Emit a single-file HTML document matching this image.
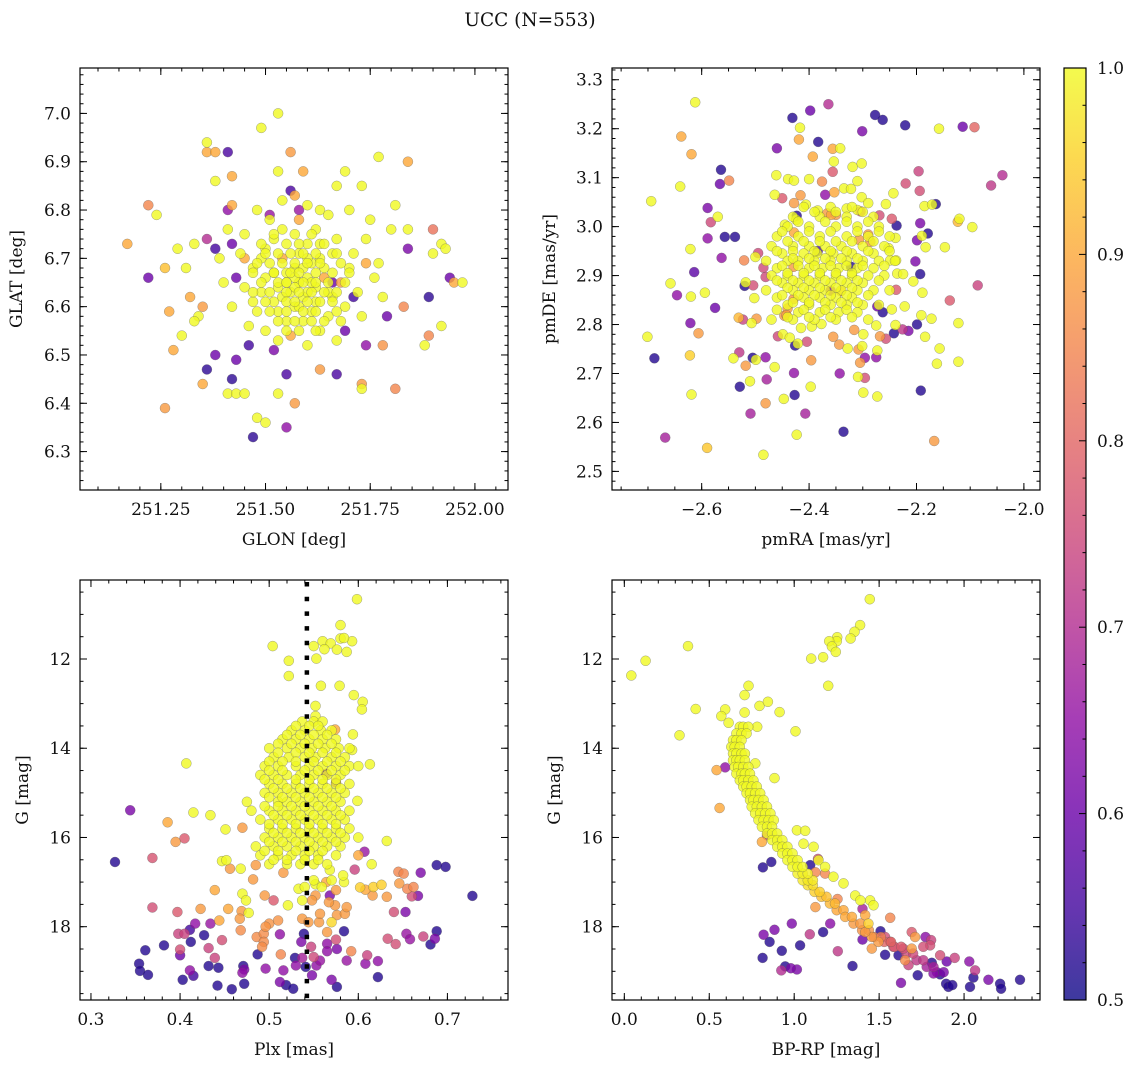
<!DOCTYPE html>
<html><head><meta charset="utf-8">
<style>
html,body{margin:0;padding:0;background:#fff;}
svg text{font-family:"DejaVu Serif","Liberation Serif",serif;fill:#111;}
</style></head>
<body>
<svg id="fig" width="1136" height="1067" viewBox="0 0 1136 1067" xmlns="http://www.w3.org/2000/svg">
<text x="530" y="26" font-size="18.5" text-anchor="middle">UCC (N=553)</text>
</svg>
<script>
// ---------- Panel 1: GLON / GLAT  [glon, glat, prob]
const skyStars = [
[251.53,7.00,1],[251.49,6.97,1],[251.36,6.94,1],[251.36,6.92,.9],[251.38,6.92,.9],[251.41,6.92,.56],[251.56,6.92,.88],[251.77,6.91,1],[251.84,6.90,.9],
[251.38,6.86,1],[251.42,6.87,.9],[251.59,6.88,.9],[251.53,6.88,1],[251.56,6.84,.56],[251.54,6.82,1],[251.57,6.83,.9],
[251.22,6.81,.85],[251.24,6.79,1],[251.42,6.81,.9],[251.41,6.80,.65],[251.51,6.79,.66],[251.58,6.80,.66],[251.60,6.81,1],
[251.63,6.80,1],[251.67,6.85,1],[251.73,6.85,1],[251.69,6.88,1],[251.81,6.81,1],[251.80,6.76,1],[251.84,6.76,1],
[251.17,6.73,.9],[251.22,6.66,.6],[251.26,6.68,.93],[251.29,6.72,1],[251.31,6.68,1],[251.32,6.62,.9],[251.33,6.73,1],
[251.36,6.74,.7],[251.38,6.72,.55],[251.42,6.73,.6],[251.45,6.70,.9],[251.43,6.66,.6],
[251.74,6.69,.9],[251.77,6.69,1],[251.84,6.72,.62],[251.90,6.71,1],[251.92,6.73,1],[251.93,6.72,1],
[251.89,6.62,.53],[251.95,6.65,.9],[251.97,6.65,1],[251.94,6.66,.6],[251.92,6.56,1],[251.88,6.52,1],[251.89,6.54,.85],[251.90,6.76,.82],
[251.35,6.60,.88],[251.34,6.58,1],[251.33,6.57,1],[251.28,6.51,.9],[251.30,6.54,1],[251.27,6.59,.9],
[251.26,6.39,.88],[251.35,6.44,.9],[251.36,6.47,.53],[251.38,6.50,.6],[251.42,6.45,.53],[251.41,6.42,1],[251.43,6.42,1],[251.45,6.42,1],
[251.43,6.49,.6],[251.46,6.52,.55],[251.52,6.51,.62],
[251.47,6.33,.53],[251.48,6.37,1],[251.50,6.36,1],[251.53,6.42,1],[251.55,6.35,.65],[251.57,6.40,.88],
[251.55,6.46,.56],[251.63,6.47,.88],[251.67,6.46,.56],[251.69,6.55,.6],[251.74,6.52,.65],[251.78,6.52,.87],
[251.73,6.44,.88],[251.73,6.43,1],[251.81,6.43,.85],[251.79,6.58,.6],[251.83,6.60,.85],[251.71,6.62,.55],[251.66,6.65,.6],
[251.58,6.65,1],[251.56,6.63,1],[251.60,6.66,1],[251.55,6.67,1],[251.62,6.64,1],[251.59,6.62,1],[251.57,6.68,1],[251.61,6.69,1],[251.53,6.64,1],[251.64,6.66,.9],
[251.52,6.61,1],[251.66,6.62,1],[251.50,6.66,1],[251.63,6.70,1],[251.58,6.71,1],[251.54,6.70,.9],[251.57,6.60,1],[251.61,6.59,1],[251.65,6.58,1],[251.51,6.69,1],
[251.49,6.63,1],[251.68,6.65,.88],[251.55,6.57,1],[251.60,6.73,1],[251.52,6.74,1],[251.66,6.71,1],[251.47,6.68,1],[251.70,6.68,1],[251.63,6.55,1],[251.56,6.54,.9],
[251.59,6.57,1],[251.48,6.59,1],[251.69,6.60,1],[251.45,6.64,1],[251.72,6.63,1],[251.54,6.76,1],[251.62,6.76,1],[251.58,6.78,.9],[251.50,6.72,1],[251.67,6.74,1],
[251.53,6.59,1],[251.62,6.61,1],[251.57,6.66,1],[251.60,6.63,1],[251.55,6.65,1],[251.59,6.68,1],[251.56,6.71,1],[251.64,6.68,1],[251.52,6.67,1],[251.61,6.65,1],
[251.58,6.60,1],[251.54,6.62,1],[251.65,6.63,1],[251.57,6.64,1],[251.60,6.70,1],[251.63,6.73,1],[251.49,6.70,1],[251.47,6.61,1],[251.71,6.71,1],[251.68,6.57,1],
[251.46,6.56,1],[251.50,6.55,1],[251.73,6.58,1],[251.44,6.71,1],[251.74,6.74,1],[251.51,6.78,1],[251.65,6.79,1],[251.60,6.52,1],[251.53,6.53,1],[251.67,6.53,1],
[251.40,6.65,1],[251.42,6.60,1],[251.76,6.66,1],[251.78,6.62,1],[251.39,6.70,1],[251.41,6.76,1],[251.75,6.78,1],[251.70,6.80,1],[251.48,6.80,1],[251.45,6.75,1]
];
// extra dense sky core rows
const skyCoreGlat = [6.75,6.73,6.71,6.69,6.67,6.65,6.63,6.61,6.59,6.57,6.55];
const skyCoreGlon = [
[251.52,251.57,251.61],[251.49,251.55,251.58,251.64],[251.50,251.53,251.59,251.62,251.67],[251.48,251.54,251.57,251.60,251.63,251.68],
[251.47,251.52,251.56,251.58,251.62,251.66,251.70],[251.49,251.53,251.55,251.59,251.62,251.65,251.69],[251.47,251.51,251.55,251.58,251.61,251.64,251.67],
[251.50,251.55,251.57,251.60,251.63,251.66],[251.51,251.55,251.59,251.62,251.67],[251.53,251.57,251.61,251.64],[251.55,251.58,251.62]
];
const skyCoreProb = 1.0;

// ---------- Panel 2: pmRA / pmDE  [pmra, pmde, prob]
const pmStars = [
[-2.612,3.254,1],[-2.638,3.184,.9],[-2.619,3.148,.9],[-2.640,3.082,1],[-2.694,3.052,1],[-2.564,3.116,.52],[-2.566,3.087,.6],[-2.549,3.094,.85],
[-2.589,3.038,.62],[-2.583,3.009,.75],[-2.570,3.02,1],[-2.589,2.976,.65],[-2.557,2.979,.52],[-2.538,2.979,.52],[-2.621,2.954,1],[-2.563,2.936,.65],
[-2.614,2.907,.58],[-2.658,2.884,1],[-2.646,2.860,.65],[-2.620,2.857,1],[-2.594,2.865,1],[-2.575,2.834,.6],[-2.621,2.803,.62],[-2.606,2.782,.88],
[-2.701,2.775,1],[-2.688,2.731,.52],[-2.622,2.737,.95],[-2.619,2.657,1],[-2.668,2.569,.68],[-2.590,2.548,.94],[-2.485,2.534,1],[-2.423,2.575,1],
[-2.336,2.581,.52],[-2.167,2.562,.88],[-2.509,2.618,.68],[-2.407,2.618,.68],[-2.481,2.639,.88],[-2.447,2.648,1],[-2.427,2.656,.52],[-2.529,2.673,.52],
[-2.510,2.684,1],[-2.479,2.688,.68],[-2.397,2.673,1],[-2.428,2.701,.65],[-2.343,2.70,.65],[-2.309,2.693,1],[-2.296,2.691,.76],[-2.299,2.661,1],
[-2.273,2.653,1],[-2.192,2.665,.52],[-2.530,2.743,.72],[-2.541,2.731,1],[-2.505,2.732,.52],[-2.499,2.728,1],[-2.518,2.716,.88],[-2.481,2.733,.65],
[-2.464,2.713,1],[-2.396,2.727,.88],[-2.305,2.722,.88],[-2.296,2.732,.65],[-2.275,2.733,.65],[-2.273,2.747,1],[-2.242,2.782,.52],[-2.257,2.771,.76],
[-2.268,2.776,.88],[-2.226,2.790,.72],[-2.215,2.787,.62],[-2.199,2.80,.52],[-2.184,2.775,1],[-2.157,2.751,1],[-2.162,2.720,1],[-2.122,2.724,1],
[-2.122,2.803,1],[-2.172,2.812,1],[-2.191,2.819,1],[-2.138,2.849,.78],[-2.086,2.880,.74],[-2.189,2.865,1],[-2.206,2.888,1],[-2.193,2.903,.52],
[-2.202,2.929,.62],[-2.238,2.871,.78],[-2.183,2.958,1],[-2.147,2.958,1],[-2.199,2.972,.62],[-2.179,2.986,.52],[-2.19,2.981,1],[-2.193,3.007,.62],
[-2.237,3.002,.52],[-2.246,3.016,.78],[-2.269,3.023,.76],[-2.123,3.010,.92],[-2.120,3.016,1],[-2.096,2.999,1],[-2.185,3.042,1],[-2.171,3.045,1],
[-2.164,3.046,.52],[-2.194,3.073,.76],[-2.220,3.088,.76],[-2.196,3.113,.74],[-2.061,3.084,.72],[-2.040,3.105,.70],[-2.114,3.204,.6],[-2.092,3.203,.8],
[-2.158,3.20,1],[-2.221,3.207,.52],[-2.263,3.218,.52],[-2.277,3.228,.52],[-2.301,3.195,.62],[-2.364,3.25,.70],[-2.398,3.237,.6],[-2.431,3.222,.52],
[-2.417,3.202,1],[-2.419,3.178,.9],[-2.383,3.173,.52],[-2.460,3.16,.62],[-2.356,3.159,.9],[-2.342,3.16,1],[-2.393,3.143,.9],[-2.354,3.133,1],
[-2.319,3.122,1],[-2.302,3.129,1],[-2.356,3.112,.78],[-2.461,3.105,1],[-2.439,3.097,1],[-2.428,3.094,1],[-2.40,3.097,1],[-2.376,3.092,.86],
[-2.31,3.093,1],[-2.464,3.065,1],[-2.45,3.058,.78],[-2.416,3.064,.88],[-2.428,3.048,.88],[-2.370,3.065,.65],[-2.353,3.07,.9],[-2.335,3.078,1],
[-2.322,3.077,1],[-2.302,3.06,1],[-2.290,3.048,1],[-2.257,3.046,1],[-2.243,3.068,1],[-2.406,3.045,1],[-2.384,3.033,1],[-2.359,3.024,.9],
[-2.33,3.037,1],[-2.31,3.034,1],[-2.304,3.031,.78],[-2.423,3.022,.52],[-2.424,3.014,1],[-2.445,3.004,1],[-2.495,2.946,.75],[-2.521,2.931,.85],
[-2.50,2.938,1],[-2.485,2.916,.75],[-2.481,2.897,.75],[-2.504,2.880,.76],[-2.520,2.879,.52],[-2.518,2.886,1],[-2.502,2.854,1],[-2.531,2.814,.92],
[-2.523,2.810,.74],[-2.498,2.812,.88],[-2.507,2.803,1],[-2.458,2.776,.75],[-2.449,2.78,1],[-2.436,2.773,1],[-2.426,2.757,.52],[-2.421,2.761,1],
[-2.404,2.765,.76],[-2.415,2.793,1],[-2.395,2.796,1],[-2.377,2.801,1],[-2.355,2.775,.88],[-2.344,2.759,.88],[-2.328,2.751,1],[-2.316,2.789,.88],
[-2.299,2.78,1],[-2.301,2.756,1],[-2.308,2.749,.88],[-2.446,2.818,.88],[-2.440,2.833,.88],[-2.275,2.798,1],[-2.239,2.799,1],[-2.222,2.837,1],
[-2.263,2.825,.52],[-2.273,2.837,.6],[-2.246,2.831,1],[-2.236,2.904,1],[-2.225,2.903,1],[-2.249,2.931,1],[-2.238,2.931,1],[-2.239,2.977,1],
[-2.252,2.956,1],[-2.307,2.973,.88],[-2.290,2.984,.88],[-2.286,2.969,.88],[-2.366,3.027,.88],[-2.350,3.024,.88],[-2.428,2.988,.9],[-2.429,2.918,.88],
[-2.429,2.852,.88],[-2.442,2.819,.88],[-2.36,2.869,.65],[-2.322,2.918,.52],[-2.384,2.950,.55],[-2.341,2.868,.9]
];
// dense core of the proper-motion cluster: one row per pmDE value
const pmCoreDE = [3.04,3.02,3.00,2.98,2.96,2.945,2.93,2.915,2.90,2.885,2.87,2.855,2.84,2.825,2.81,
                  3.03,3.01,2.99,2.97,2.95,2.935,2.92,2.905,2.89,2.875,2.86,2.845,2.83,2.815];
const pmCoreRA = [
[-2.41,-2.36,-2.32],[-2.43,-2.38,-2.33,-2.28],[-2.44,-2.40,-2.35,-2.31,-2.27],[-2.46,-2.42,-2.38,-2.33,-2.29,-2.25],
[-2.47,-2.43,-2.40,-2.37,-2.34,-2.30,-2.26],[-2.45,-2.41,-2.385,-2.355,-2.32,-2.28],[-2.48,-2.44,-2.42,-2.39,-2.36,-2.33,-2.30,-2.27,-2.24],
[-2.46,-2.40,-2.375,-2.345,-2.31,-2.28],[-2.47,-2.44,-2.41,-2.38,-2.35,-2.32,-2.29,-2.26],[-2.45,-2.42,-2.39,-2.36,-2.33,-2.30],
[-2.48,-2.43,-2.40,-2.37,-2.34,-2.31,-2.28,-2.25],[-2.46,-2.41,-2.38,-2.35,-2.32],[-2.44,-2.40,-2.36,-2.33,-2.30,-2.27],
[-2.42,-2.38,-2.345,-2.31],[-2.47,-2.43,-2.39,-2.35,-2.29],
[-2.39,-2.35,-2.30],[-2.42,-2.37,-2.33,-2.29],[-2.45,-2.40,-2.36,-2.31,-2.27],[-2.44,-2.41,-2.38,-2.35,-2.32,-2.28],
[-2.46,-2.43,-2.39,-2.36,-2.33,-2.29,-2.25],[-2.43,-2.40,-2.37,-2.34,-2.31],[-2.45,-2.42,-2.39,-2.36,-2.33,-2.30,-2.26],
[-2.44,-2.41,-2.38,-2.35,-2.32],[-2.46,-2.43,-2.40,-2.37,-2.34,-2.31,-2.27],[-2.44,-2.41,-2.38,-2.35,-2.32],
[-2.45,-2.42,-2.39,-2.36,-2.33,-2.29],[-2.43,-2.40,-2.37,-2.34,-2.31],[-2.46,-2.41,-2.37,-2.33],[-2.44,-2.40,-2.36,-2.32]
];
const pmCoreProb = 1.0;

// ---------- Panel 3: Plx / G  [plx, G, prob]
const plxStars = [
[.5985,10.66,1],[.580,11.24,1],[.504,11.71,1],[.522,12.04,1],[.522,12.38,1],[.55,11.71,1],[.560,11.6,1],[.569,11.65,1],[.562,11.78,1],
[.576,11.79,1],[.580,11.54,1],[.593,11.6,1],[.587,11.84,1],[.553,11.99,1],[.584,11.53,1],[.558,12.6,1],[.579,12.6,1],[.595,12.81,1],
[.605,12.96,1],[.604,13.13,1],[.552,13.05,1],[.552,13.28,1],[.407,14.34,1],[.344,15.39,.62],[.327,16.55,.52],[.386,15.66,.9],[.395,16.1,.88],
[.405,16.02,.78],[.369,16.46,.77],[.415,15.44,1],[.434,15.5,1],[.451,15.82,1],[.470,15.78,.88],[.447,16.53,1],[.452,16.51,1],[.456,16.7,.88],
[.468,16.7,1],[.439,17.18,.9],[.369,17.57,.76],[.397,17.67,.78],[.423,17.6,.88],[.454,17.6,.9],[.444,17.86,.9],[.417,17.93,.65],[.434,17.93,.66],
[.398,18.16,.74],[.405,18.16,.74],[.411,18.07,.55],[.427,18.19,.52],[.412,18.34,.52],[.447,18.3,.76],[.382,18.42,.52],[.361,18.53,.52],[.354,18.83,.52],
[.355,18.99,.52],[.364,19.08,.52],[.40,18.64,.6],[.40,18.51,.76],[.432,18.48,.74],[.439,18.7,.74],[.432,18.88,.52],[.443,18.92,.52],[.411,18.98,.65],
[.415,19.1,.55],[.403,19.19,.52],[.442,19.32,.52],[.458,19.4,.52],[.472,19.28,.52],[.471,18.88,.52],[.472,18.96,.62],[.47,19.03,.65],[.487,18.62,.52],
[.496,18.94,.65],[.516,18.98,.65],[.519,19.31,.52],[.527,19.39,.52],[.512,19.24,.62],[.529,18.7,.52],[.53,18.87,.65],[.537,18.7,.68],[.539,18.16,.52],
[.536,18.34,.62],[.512,18.17,.65],[.541,18.9,.52],[.548,19.09,.62],[.553,18.87,.65],[.557,18.76,.66],[.547,18.45,.74],[.55,18.68,.75],[.565,18.38,.65],
[.565,18.55,.65],[.576,18.5,.62],[.570,19.19,.62],[.576,19.35,.52],[.584,18.1,.52],[.575,18.29,.76],[.587,18.76,.66],[.592,18.55,.85],[.608,18.83,.65],
[.61,18.64,.74],[.622,18.77,.65],[.622,19.13,.52],[.607,16.32,.66],[.596,16.72,.74],[.670,16.79,.62],[.688,16.62,.52],[.698,16.66,.52],[.728,17.31,.52],
[.667,17.31,.62],[.66,17.32,.76],[.653,17.67,.62],[.64,17.67,.76],[.645,16.77,.85],[.651,16.81,.85],[.646,17.03,.88],[.655,17.15,.85],[.662,17.11,.85],
[.632,17.33,.88],[.616,17.3,.88],[.608,17.17,.9],[.602,17.12,.95],[.617,17.11,.95],[.626,17.06,.95],[.688,18.1,.52],[.686,18.27,.62],[.681,18.4,.52],
[.673,18.22,.74],[.654,18.16,.66],[.658,18.28,.66],[.633,18.27,.76],[.642,18.39,.76],[.632,16.08,1],[.615,16.6,1],[.60,16.4,.9],[.613,14.36,1],
[.594,13.69,1],[.593,14.04,1],[.599,15.18,1],[.574,13.58,.9],[.575,14.77,.65],[.564,14.57,.62],
[.482,16.94,.88],[.485,16.62,.88],[.516,16.79,.88],[.495,17.3,.88],[.505,17.41,.78],[.521,17.52,1],[.47,17.26,1],[.474,17.41,1],[.477,17.69,1],
[.469,17.65,.88],[.467,17.82,.88],[.468,18.08,.86],[.486,18.23,.86],[.494,18.16,.86],[.494,18.34,.86],[.50,17.93,.87],[.51,17.86,.87],[.492,18.45,.86],
[.496,18.0,.87],[.513,18.62,.85],[.537,17.82,.88],[.544,17.9,.88],[.556,17.9,.88],[.565,18.12,.88],[.557,17.71,.88],[.57,17.9,.96],[.576,17.74,.88],
[.585,17.71,.88],[.587,17.56,.88],[.574,17.52,.88],[.567,17.45,.88],[.568,17.3,.62],[.552,17.3,.88],[.548,17.41,.88],[.537,17.41,1],[.533,17.15,1],
[.54,17.11,1],[.552,17.05,1],[.559,17.11,1],[.564,17.0,.9],[.57,16.96,1],[.575,17.18,.88],[.584,17.0,1],[.568,16.73,1],[.583,16.85,1],[.55,16.96,1]
];
// dense bright column: one row per G value
const plxCoreG = [13.4,13.6,13.8,14.0,14.2,14.4,14.6,14.8,15.0,15.2,15.4,15.6,15.8,16.0,16.2,16.4,16.6,
                  13.5,13.7,13.9,14.1,14.3,14.5,14.7,14.9,15.1,15.3,15.5,15.7,15.9,16.1,16.3,16.5];
const plxCorePlx = [
[.537,.55,.56],[.525,.54,.558,.57],[.515,.53,.545,.56,.575],[.50,.52,.535,.548,.563,.578,.59],[.505,.522,.54,.552,.57,.585],
[.495,.51,.53,.545,.56,.575,.59,.60],[.49,.505,.52,.535,.55,.565,.58],[.50,.515,.53,.545,.56,.575,.59],[.495,.51,.525,.54,.555,.57,.585],
[.475,.51,.52,.535,.55,.565,.58],[.48,.50,.515,.53,.545,.56,.575,.59],[.49,.51,.525,.54,.555,.57,.585],[.50,.515,.53,.545,.56,.575,.59],
[.495,.51,.525,.54,.555,.57,.585,.60],[.485,.505,.52,.535,.55,.565,.58],[.49,.51,.525,.54,.555,.575],[.50,.52,.535,.55,.565],
[.53,.545,.555],[.52,.535,.55,.565],[.51,.525,.54,.555,.57],[.51,.53,.545,.56,.575],[.50,.515,.53,.55,.565,.58],
[.50,.515,.54,.555,.57,.585],[.495,.51,.53,.545,.56,.575],[.505,.52,.535,.55,.565,.58],[.50,.515,.53,.545,.56,.575],
[.495,.51,.525,.54,.555,.57],[.505,.52,.535,.55,.565,.58],[.50,.515,.53,.545,.56,.575],[.505,.52,.535,.55,.565,.58],
[.50,.515,.53,.545,.56,.575],[.495,.51,.53,.545,.56],[.505,.52,.54,.555]
];
const plxCoreProb = 1.0;
const plxMarker = 0.5423;

// ---------- Panel 4: BP-RP / G  [bprp, G, prob]
const cmdStars = [
[.041,12.37,1],[.125,12.04,1],[.375,11.71,1],[.42,13.12,1],[.325,13.71,1],[1.445,10.66,1],[1.388,11.24,1],[1.355,11.39,1],[1.332,11.54,1],
[1.253,11.51,1],[1.251,11.6,1],[1.206,11.6,1],[1.222,11.72,1],[1.245,11.84,1],[1.17,11.96,1],[1.10,11.99,1],[1.20,12.6,1],
[.731,12.6,1],[.708,12.81,1],[.594,13.13,1],[.571,13.28,1],[.614,13.43,1],[.708,13.2,1],[.796,13.05,1],[.845,12.96,1],[.914,13.19,1],
[.782,13.52,1],[1.008,13.62,1],[.884,14.67,1],[.771,14.34,1],[.543,14.49,.9],[.594,14.43,.65],[.561,15.34,.9],
[1.016,15.84,1],[1.065,15.85,1],[1.055,16.14,1],[1.114,16.21,1],[1.143,16.51,1],[1.182,16.66,1],[1.231,16.88,1],[1.29,17.03,1],
[1.359,17.3,1],[1.39,17.41,1],[1.447,17.41,1],[1.467,17.52,1],[1.437,17.93,.95],[1.418,17.74,.9],
[1.14,16.48,.76],[1.182,16.81,.85],[1.125,16.78,.85],[1.255,17.38,.85],[1.125,17.56,.88],[1.565,17.8,.85],[1.402,17.6,.68],[.81,16.1,.9],[.84,15.95,.75],
[.816,16.67,.52],[.865,16.55,.52],[1.094,16.62,.52],[.82,18.18,.62],[.884,18.07,.62],[.986,17.93,.62],[.855,18.34,.52],[.927,18.54,.52],[1.035,18.42,.52],
[.814,18.7,.52],[.947,18.89,.52],[.924,18.98,.7],[1.016,18.96,.62],[.98,18.93,.62],[1.092,18.17,.72],[1.17,18.12,.52],[1.212,17.93,.64],[1.257,18.55,.72],
[1.343,18.88,.52],[1.402,18.29,.6],[1.508,18.1,.52],[1.535,18.63,.52],[1.629,19.26,.62],[1.727,19.09,.52],[1.81,18.81,.52],[1.82,19.05,.64],[1.859,19.07,.52],
[1.898,18.78,.6],[1.894,19.28,.52],[1.908,19.35,.52],[1.931,19.31,.52],[2.031,18.78,.64],[2.065,18.98,.72],[2.055,19.14,.52],[2.035,19.35,.52],
[2.143,19.19,.62],[2.212,19.28,.52],[2.218,19.39,.52],[2.329,19.19,.52],[1.945,18.7,.74],[1.859,18.64,.76],[1.773,18.23,.64],[1.806,18.3,.74],
[1.80,18.42,.76],[1.692,18.12,.78],[1.712,18.23,.88],[1.692,18.49,.88],[1.643,18.49,.76],[1.614,18.64,.52],[1.653,18.75,.86],[1.673,18.86,.74],
[1.76,18.45,.76],[1.535,18.23,.76],[1.565,18.34,.76],[1.584,18.45,.76],[1.457,18.49,.88],[1.496,18.34,.88],[1.457,18.23,.88],[1.418,18.12,.88]
];
// main-sequence ridge: one row per G value
const cmdRowG = [13.52,13.67,13.82,13.97,14.12,14.27,14.42,14.57,14.72,14.86,15.01,15.16,15.31,15.46,15.61,15.76,15.91,16.06,16.21,16.36,16.51,16.66,16.81,16.96,17.07,17.22,17.33,17.48,17.63,17.78,17.93,18.08,18.23,18.34,18.45,18.6,18.75,18.9,19.02];
const cmdRowC = [
[.68,.70,.73],[.66,.69,.72],[.64,.66,.69],[.63,.65,.68],[.64,.66,.69,.71],[.64,.66,.68,.71],[.65,.67,.70,.73],[.66,.69,.71,.74],[.68,.70,.73,.76],
[.70,.72,.75,.78],[.72,.74,.77,.80],[.74,.76,.79,.82],[.75,.78,.81,.84],[.77,.80,.83,.86],[.79,.82,.85,.88],[.81,.84,.87],[.84,.87,.90],[.87,.90,.93],
[.90,.93,.96],[.93,.96,.99],[.96,.99,1.02],[.99,1.02,1.05],[1.02,1.05,1.08],[1.05,1.08,1.11],[1.08,1.11],[1.12,1.15],[1.16,1.19],[1.21,1.24],
[1.25,1.29],[1.30,1.34],[1.35,1.39],[1.40,1.44],[1.47,1.51],[1.53,1.57],[1.59,1.63],[1.66,1.70],[1.72,1.76],[1.78,1.82],[1.84,1.88]
];
const cmdRowP = [1,1,1,1,1,1,1,1,1,1,1,1,1,1,1,1,1,1,1,1,1,1,.99,.98,.97,.95,.93,.92,.9,.9,.88,.87,.84,.8,.78,.75,.72,.68,.62];

// ---------- colorbar ticks
const cbarTicks = [0.5,0.6,0.7,0.8,0.9,1.0];

// ================= rendering =================
const NS='http://www.w3.org/2000/svg';
const svg=document.getElementById('fig');
function mk(tag,attrs,parent){const e=document.createElementNS(NS,tag);for(const k in attrs)e.setAttribute(k,attrs[k]);(parent||svg).appendChild(e);return e;}
const plasma=[[13,8,135],[65,4,157],[106,0,168],[143,13,164],[177,42,144],[204,71,120],[225,100,98],[242,132,75],[252,166,54],[252,206,37],[240,249,33]];
function plasmaAt(t){t=Math.max(0,Math.min(1,t));const f=t*10,i=Math.min(9,Math.floor(f)),u=f-i;const a=plasma[i],b=plasma[i+1];return [0,1,2].map(k=>Math.round(a[k]+(b[k]-a[k])*u));}
function cmap(p){const c=plasmaAt((p-0.5)/0.5);return 'rgb('+c.join(',')+')';}
function fmt(v,d){let s=Math.abs(v).toFixed(d);return (v<-1e-9?'\u2212':'')+s;}

function panel(cfg){
  const g=mk('g',{});
  
  
  const {x0,y0,w,h}=cfg.box;
  const sx=v=>x0+(v-cfg.xlim[0])/(cfg.xlim[1]-cfg.xlim[0])*w;
  const sy=v=>y0+(v-cfg.ytop)/(cfg.ybot-cfg.ytop)*h;
  const clip=mk('clipPath',{id:'clip-'+cfg.name},g);
  mk('rect',{x:x0,y:y0,width:w,height:h},clip);
  const pts=mk('g',{'clip-path':'url(#clip-'+cfg.name+')'},g);
  
  
  const stars=cfg.stars.slice().sort((a,b)=>a[2]-b[2]);
  stars.forEach(s=>{
    const c=mk('circle',{cx:sx(s[0]).toFixed(1),cy:sy(s[1]).toFixed(1),r:5,fill:cmap(s[2]),'fill-opacity':0.8,stroke:'#555','stroke-opacity':0.55,'stroke-width':0.5},pts);
    
    
  });
  if(cfg.extra) cfg.extra(g,sx,sy);
  function ticks(min,max,step){const out=[];const a=Math.ceil(Math.min(min,max)/step-1e-6),b=Math.floor(Math.max(min,max)/step+1e-6);for(let k=a;k<=b;k++)out.push(+(k*step).toFixed(6));return out;}
  const tk=mk('g',{stroke:'#000','stroke-width':1},g);
  
  
  ticks(cfg.xlim[0],cfg.xlim[1],cfg.xminor).forEach(v=>{const x=sx(v);mk('line',{x1:x,x2:x,y1:y0+h,y2:y0+h-3.5},tk);mk('line',{x1:x,x2:x,y1:y0,y2:y0+3.5},tk);});
  ticks(cfg.ytop,cfg.ybot,cfg.yminor).forEach(v=>{const y=sy(v);mk('line',{x1:x0,x2:x0+3.5,y1:y,y2:y},tk);mk('line',{x1:x0+w,x2:x0+w-3.5,y1:y,y2:y},tk);});
  ticks(cfg.xlim[0],cfg.xlim[1],cfg.xmajor).forEach(v=>{const x=sx(v);mk('line',{x1:x,x2:x,y1:y0+h,y2:y0+h-7},tk);mk('line',{x1:x,x2:x,y1:y0,y2:y0+7},tk);
    const t=mk('text',{x:x,y:y0+h+25,'font-size':17,'text-anchor':'middle'},g);t.textContent=fmt(v,cfg.xdec);
    });
  ticks(cfg.ytop,cfg.ybot,cfg.ymajor).forEach(v=>{const y=sy(v);mk('line',{x1:x0,x2:x0+7,y1:y,y2:y},tk);mk('line',{x1:x0+w,x2:x0+w-7,y1:y,y2:y},tk);
    const t=mk('text',{x:x0-9,y:y+6,'font-size':17,'text-anchor':'end'},g);t.textContent=fmt(v,cfg.ydec);
    });
  const fr=mk('rect',{x:x0,y:y0,width:w,height:h,fill:'none',stroke:'#000','stroke-width':1.2},g);
  
  const xl=mk('text',{x:x0+w/2,y:y0+h+55,'font-size':17,'text-anchor':'middle'},g);xl.textContent=cfg.xlabel;
  
  const yl=mk('text',{x:cfg.ylabX,y:y0+h/2,'font-size':17,'text-anchor':'middle',transform:'rotate(-90 '+cfg.ylabX+' '+(y0+h/2)+')'},g);yl.textContent=cfg.ylabel;
  
}

function rows(ys,xs,p){const out=[];ys.forEach((y,i)=>(xs[i]||[]).forEach(x=>out.push([x,y,Array.isArray(p)?p[i]:p])));return out;}

panel({name:'sky-panel',box:{x0:80,y0:68,w:428,h:422},xlim:[251.057,252.079],ytop:7.094,ybot:6.2205,
  xmajor:0.25,xminor:0.05,ymajor:0.1,yminor:0.02,xdec:2,ydec:1,xlabel:'GLON [deg]',ylabel:'GLAT [deg]',ylabX:22,
  stars:skyStars.concat(rows(skyCoreGlat,skyCoreGlon,skyCoreProb))});
panel({name:'pm-panel',box:{x0:612,y0:68,w:428,h:422},xlim:[-2.767,-1.970],ytop:3.324,ybot:2.462,
  xmajor:0.2,xminor:0.05,ymajor:0.1,yminor:0.02,xdec:1,ydec:1,xlabel:'pmRA [mas/yr]',ylabel:'pmDE [mas/yr]',ylabX:555,
  stars:pmStars.concat(rows(pmCoreDE,pmCoreRA,pmCoreProb))});
panel({name:'plx-panel',box:{x0:80,y0:580,w:428,h:420},xlim:[0.2877,0.768],ytop:10.229,ybot:19.643,
  xmajor:0.1,xminor:0.02,ymajor:2,yminor:0.5,xdec:1,ydec:0,xlabel:'Plx [mas]',ylabel:'G [mag]',ylabX:28,
  stars:plxStars.concat(rows(plxCoreG,plxCorePlx,plxCoreProb)),
  extra:(g,sx,sy)=>{const l=mk('line',{x1:sx(plxMarker),x2:sx(plxMarker),y1:582,y2:1000,stroke:'#000','stroke-width':4.5,'stroke-dasharray':'4.5 10.2'},g);
    }});
panel({name:'cmd-panel',box:{x0:612,y0:580,w:428,h:420},xlim:[-0.0725,2.447],ytop:10.229,ybot:19.643,
  xmajor:0.5,xminor:0.1,ymajor:2,yminor:0.5,xdec:1,ydec:0,xlabel:'BP-RP [mag]',ylabel:'G [mag]',ylabX:560,
  stars:cmdStars.concat(rows(cmdRowG,cmdRowC,cmdRowP))});

// colorbar
(function(){
  const g=mk('g',{});
  
  
  const defs=mk('defs',{},g);
  const lg=mk('linearGradient',{id:'cbgrad',x1:0,y1:1,x2:0,y2:0},defs);
  for(let i=0;i<=20;i++){const c=plasmaAt(i/20);mk('stop',{offset:(i/20),'stop-color':'rgb('+c.join(',')+')','stop-opacity':0.8},lg);}
  const x0=1064,y0=68,w=22,h=932;
  mk('rect',{x:x0,y:y0,width:w,height:h,fill:'url(#cbgrad)'},g);
  const sy=v=>y0+(1.0-v)/0.5*h;
  for(let k=25;k<=50;k++){const v=k/50,y=sy(v);const major=(k%5===0);mk('line',{x1:x0+w,x2:x0+w-(major?7:3.5),y1:y,y2:y,stroke:'#000','stroke-width':1},g);}
  cbarTicks.forEach(v=>{const t=mk('text',{x:x0+w+11,y:sy(v)+6,'font-size':17},g);t.textContent=v.toFixed(1);
    });
  mk('rect',{x:x0,y:y0,width:w,height:h,fill:'none',stroke:'#000','stroke-width':1.2},g);
})();
</script>
</body></html>
